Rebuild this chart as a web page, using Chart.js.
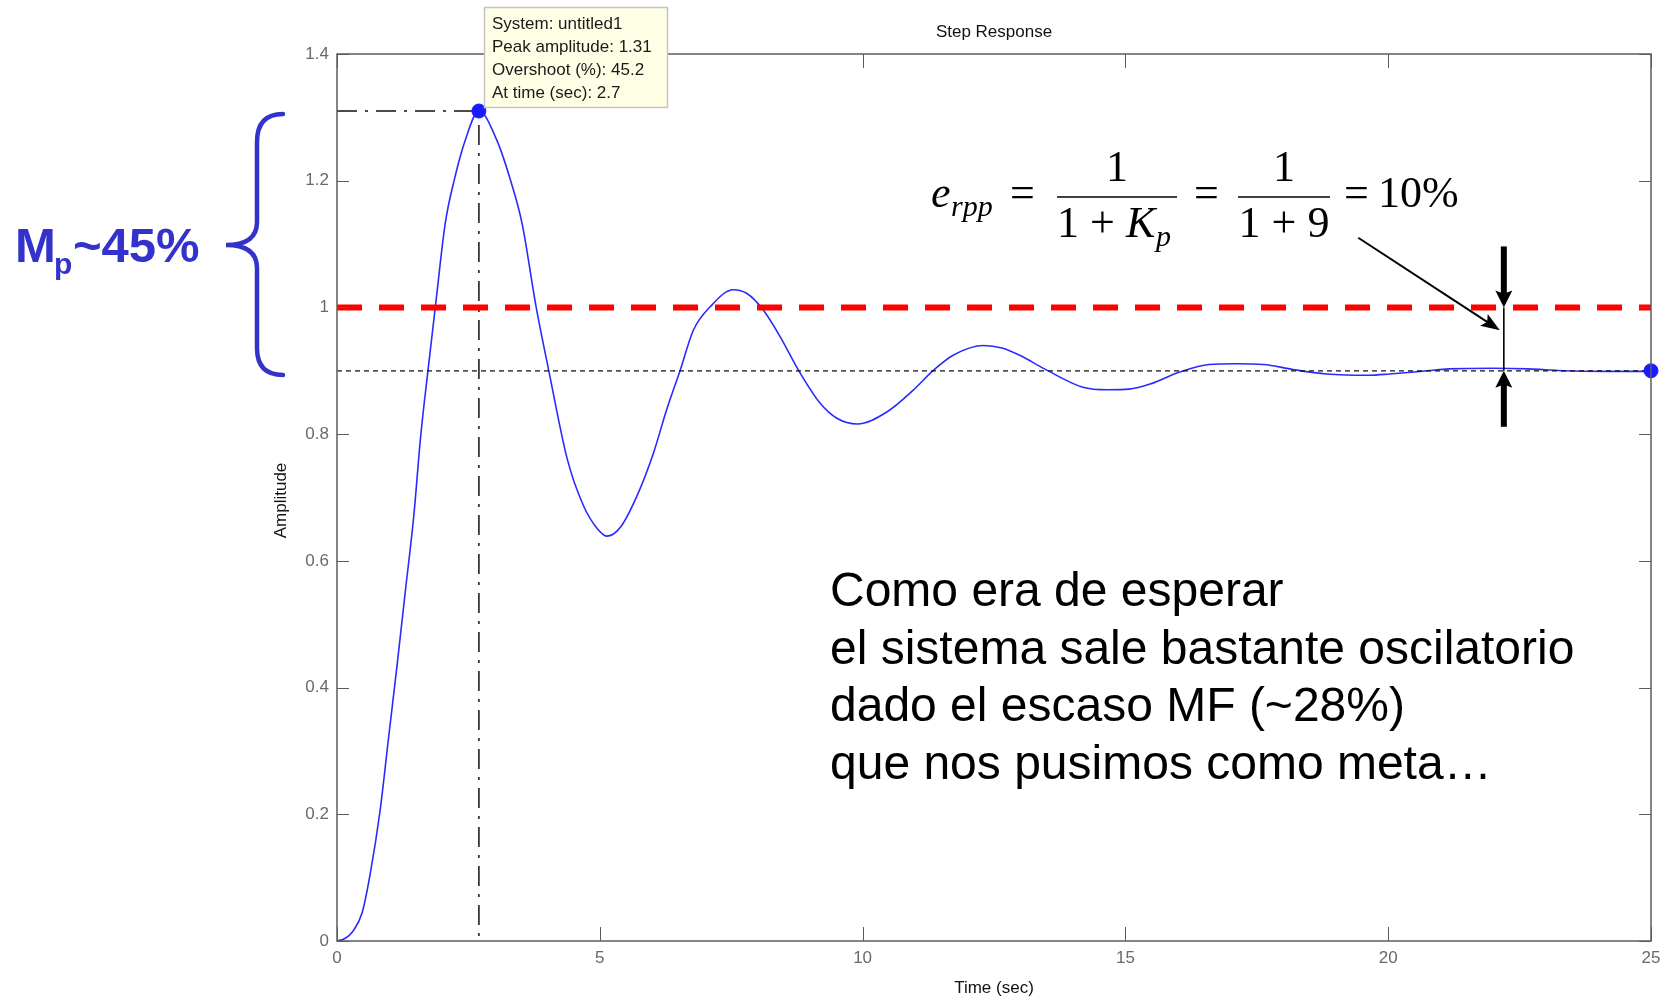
<!DOCTYPE html>
<html>
<head>
<meta charset="utf-8">
<title>Step Response</title>
<script src="https://cdn.jsdelivr.net/npm/chart.js@4.4.1/dist/chart.umd.min.js"></script>
<style>
  html, body { margin: 0; padding: 0; background: #ffffff; }
  canvas { display: block; }
</style>
</head>
<body>
<canvas id="step_chart" width="1662" height="1001"></canvas>
<script>
"use strict";

// step response
var timeValues = [0, 0.15, 0.3, 0.48, 0.63, 0.82, 0.98, 1.14, 1.3, 1.46, 1.59, 1.73, 1.87, 2.06, 2.23,
    2.44, 2.7, 3.04, 3.3, 3.52, 3.79, 4.03, 4.38, 4.69, 4.95, 5.13, 5.4, 5.72, 6.02, 6.27,
    6.53, 6.78, 7.1, 7.54, 7.8, 8.11, 8.43, 8.78, 9.19, 9.51, 9.9, 10.46, 10.97, 11.35, 11.73,
    12.3, 12.65, 13.0, 13.46, 14.19, 14.67, 15.07, 15.47, 16.03, 16.59, 17.1, 17.63, 18.19, 18.83, 19.63,
    20.03, 20.75, 21.15, 22.0, 22.67, 23.31, 24.2, 25];
var amplitudeValues = [0, 0.004, 0.015, 0.045, 0.105, 0.206, 0.32, 0.433, 0.552, 0.67, 0.795, 0.9, 1.0, 1.133, 1.201,
    1.264, 1.31, 1.264, 1.201, 1.133, 1.0, 0.9, 0.761, 0.687, 0.651, 0.639, 0.654, 0.705, 0.77, 0.838,
    0.901, 0.964, 1.001, 1.028, 1.022, 0.996, 0.954, 0.901, 0.849, 0.825, 0.816, 0.835, 0.87, 0.901, 0.925,
    0.94, 0.936, 0.924, 0.903, 0.874, 0.870, 0.871, 0.879, 0.898, 0.910, 0.911, 0.910, 0.902, 0.895, 0.893,
    0.895, 0.9, 0.903, 0.904, 0.903, 0.9, 0.899, 0.899];

var peakTime = 2.7;
var peakAmplitude = 1.31;
var finalTime = 25;
var finalValue = 0.9;
var setpointValue = 1.0;
var arrowTime = 22.2;

var xTicks = [0, 5, 10, 15, 20, 25];
var yTicks = [0, 0.2, 0.4, 0.6, 0.8, 1, 1.2, 1.4];

var tooltipLines = ['System: untitled1', 'Peak amplitude: 1.31', 'Overshoot (%): 45.2', 'At time (sec): 2.7'];
var noteLines = ['Como era de esperar', 'el sistema sale bastante oscilatorio',
    'dado el escaso MF (~28%)', 'que nos pusimos como meta\u2026'];

function pts(xs, ys) {
    return xs.map(function(x, i) { return {x: x, y: ys[i]}; });
}

function line(ctx, x1, y1, x2, y2) {
    ctx.beginPath();
    ctx.moveTo(x1, y1);
    ctx.lineTo(x2, y2);
    ctx.stroke();
}

function arrowHead(ctx, tx, ty, angle, len, half) {
    ctx.save();
    ctx.translate(tx, ty);
    ctx.rotate(angle);
    ctx.beginPath();
    ctx.moveTo(0, 0);
    ctx.lineTo(-len, -half);
    ctx.lineTo(-len * 0.8, 0);
    ctx.lineTo(-len, half);
    ctx.closePath();
    ctx.fill();
    ctx.restore();
}

var SERIF = '"Liberation Serif", "Times New Roman", serif';

var overlay = {
    id: 'overlay',
    afterDatasetsDraw: function(chart) {
        var ctx = chart.ctx;
        var a = chart.chartArea;
        var x = chart.scales.x, y = chart.scales.y;
        ctx.save();

        // axes box and inward ticks
        ctx.strokeStyle = '#5c5c5c';
        ctx.lineWidth = 1.5;
        ctx.strokeRect(a.left, a.top, a.right - a.left, a.bottom - a.top);
        ctx.lineWidth = 1;
        yTicks.forEach(function(v) {
            var py = Math.round(y.getPixelForValue(v)) + 0.5;
            line(ctx, a.left, py, a.left + 12, py);
            line(ctx, a.right - 12, py, a.right, py);
        });
        xTicks.forEach(function(v) {
            var px = Math.round(x.getPixelForValue(v)) + 0.5;
            line(ctx, px, a.bottom, px, a.bottom - 14);
            line(ctx, px, a.top, px, a.top + 14);
        });

        // titles
        var cx = (a.left + a.right) / 2;
        ctx.fillStyle = '#111';
        ctx.font = '17px Arial';
        ctx.textAlign = 'center';
        ctx.textBaseline = 'middle';
        ctx.fillText('Step Response', cx, 32);
        ctx.fillText('Time (sec)', cx, 988);
        ctx.save();
        ctx.translate(281, (a.top + a.bottom) / 2 + 3);
        ctx.rotate(-Math.PI / 2);
        ctx.fillText('Amplitude', 0, 0);
        ctx.restore();

        // Mp brace
        ctx.strokeStyle = '#3333cc';
        ctx.lineWidth = 4.5;
        ctx.lineCap = 'round';
        ctx.beginPath();
        ctx.moveTo(283, 114);
        ctx.quadraticCurveTo(257, 114, 257, 142);
        ctx.lineTo(257, 222);
        ctx.quadraticCurveTo(257, 245, 226, 245);
        ctx.quadraticCurveTo(257, 245, 257, 268);
        ctx.lineTo(257, 348);
        ctx.quadraticCurveTo(257, 375, 283, 375);
        ctx.stroke();
        ctx.lineCap = 'butt';
        ctx.fillStyle = '#3333cc';
        ctx.textAlign = 'left';
        ctx.textBaseline = 'alphabetic';
        ctx.font = 'bold 49px Arial';
        ctx.fillText('M', 15, 262);
        ctx.font = 'bold 30px Arial';
        ctx.fillText('p', 54, 274);
        ctx.font = 'bold 49px Arial';
        ctx.fillText('~45%', 73, 262);

        // formula
        ctx.fillStyle = '#000';
        ctx.strokeStyle = '#000';
        ctx.lineWidth = 1.7;
        ctx.font = 'italic 44px ' + SERIF;
        ctx.fillText('e', 931, 207);
        ctx.font = 'italic 30px ' + SERIF;
        ctx.fillText('rpp', 951, 216);
        ctx.font = '44px ' + SERIF;
        ctx.fillText('=', 1010, 207);
        line(ctx, 1057, 197, 1177, 197);
        ctx.textAlign = 'center';
        ctx.fillText('1', 1117, 181);
        ctx.textAlign = 'left';
        ctx.fillText('1 + ', 1057, 237);
        ctx.font = 'italic 44px ' + SERIF;
        ctx.fillText('K', 1126, 237);
        ctx.font = 'italic 30px ' + SERIF;
        ctx.fillText('p', 1156, 246);
        ctx.font = '44px ' + SERIF;
        ctx.fillText('=', 1194, 207);
        line(ctx, 1238, 197, 1330, 197);
        ctx.textAlign = 'center';
        ctx.fillText('1', 1284, 181);
        ctx.fillText('1 + 9', 1284, 237);
        ctx.textAlign = 'left';
        ctx.fillText('=', 1344, 207);
        ctx.fillText('10%', 1378, 207);

        // error arrows
        var ax = x.getPixelForValue(arrowTime);
        var ySet = y.getPixelForValue(setpointValue);
        var yFin = y.getPixelForValue(finalValue);
        ctx.lineWidth = 2;
        var sx = x.getPixelForValue(19.43), sy = y.getPixelForValue(1.11);
        var ex = ax - 4, ey = y.getPixelForValue(0.964);
        var ang = Math.atan2(ey - sy, ex - sx);
        line(ctx, sx, sy, ex - 12 * Math.cos(ang), ey - 12 * Math.sin(ang));
        arrowHead(ctx, ex, ey, ang, 19, 7);
        ctx.lineWidth = 1.6;
        line(ctx, ax, ySet, ax, yFin);
        ctx.lineWidth = 6;
        line(ctx, ax, ySet - 61, ax, ySet - 12);
        line(ctx, ax, yFin + 12, ax, yFin + 56);
        arrowHead(ctx, ax, ySet, Math.PI / 2, 17, 8.5);
        arrowHead(ctx, ax, yFin, -Math.PI / 2, 17, 8.5);

        // note text
        ctx.font = '48px Arial';
        ctx.fillStyle = '#000';
        noteLines.forEach(function(t, i) {
            ctx.fillText(t, 830, 606 + i * 57.7);
        });

        // data tip box
        ctx.fillStyle = '#ffffe6';
        ctx.fillRect(484, 7, 184, 101);
        ctx.strokeStyle = '#c4c4c4';
        ctx.lineWidth = 1.5;
        ctx.strokeRect(484.5, 7.5, 183, 100);
        ctx.fillStyle = '#1a1a1a';
        ctx.font = '17px Arial';
        tooltipLines.forEach(function(t, i) {
            ctx.fillText(t, 492, 29 + i * 23);
        });

        ctx.restore();
    }
};

var chart = new Chart(document.getElementById('step_chart'), {
    type: 'scatter',
    data: {
        datasets: [{
            label: 'markers',
            data: pts([peakTime, finalTime], [peakAmplitude, finalValue]),
            backgroundColor: '#1a1aff',
            borderColor: '#1a1aff',
            pointRadius: 7,
            showLine: false,
            clip: false
        }, {
            label: 'setpoint',
            data: pts([0, 25], [setpointValue, setpointValue]),
            showLine: true,
            borderColor: '#ff0000',
            borderWidth: 6,
            borderDash: [25, 17],
            pointRadius: 0
        }, {
            label: 'final value',
            data: pts([0, 25], [finalValue, finalValue]),
            showLine: true,
            borderColor: '#111',
            borderWidth: 1.3,
            borderDash: [5, 4],
            pointRadius: 0
        }, {
            label: 'peak guide',
            data: pts([0, peakTime, peakTime], [peakAmplitude, peakAmplitude, 0]),
            showLine: true,
            borderColor: '#111',
            borderWidth: 1.5,
            borderDash: [20, 8, 3, 8],
            pointRadius: 0
        }, {
            label: 'untitled1',
            data: pts(timeValues, amplitudeValues),
            showLine: true,
            borderColor: '#2a2aff',
            borderWidth: 1.6,
            cubicInterpolationMode: 'monotone',
            pointRadius: 0
        }]
    },
    options: {
        responsive: false,
        animation: false,
        events: [],
        layout: {
            padding: { top: 54, right: 0, left: 0, bottom: 0 }
        },
        plugins: {
            legend: { display: false },
            tooltip: { enabled: false }
        },
        scales: {
            x: {
                type: 'linear',
                min: 0,
                max: 25,
                afterFit: function(s) {
                    s.height = 60;
                    s.paddingLeft = 0;
                    s.paddingRight = 11;
                },
                afterBuildTicks: function(s) { s.ticks = xTicks.map(function(v) { return {value: v}; }); },
                grid: { display: false, drawTicks: false },
                border: { display: false },
                ticks: { color: '#6a6a6a', font: { family: 'Arial', size: 17 }, padding: 7, maxRotation: 0 }
            },
            y: {
                type: 'linear',
                min: 0,
                max: 1.4,
                afterFit: function(s) {
                    s.width = 337;
                    s.paddingTop = 0;
                    s.paddingBottom = 0;
                },
                afterBuildTicks: function(s) { s.ticks = yTicks.map(function(v) { return {value: v}; }); },
                grid: { display: false, drawTicks: false },
                border: { display: false },
                ticks: {
                    color: '#6a6a6a',
                    font: { family: 'Arial', size: 17 },
                    padding: 8,
                    callback: function(v) { return String(Math.round(v * 10) / 10); }
                }
            }
        }
    },
    plugins: [overlay]
});
</script>
</body>
</html>
